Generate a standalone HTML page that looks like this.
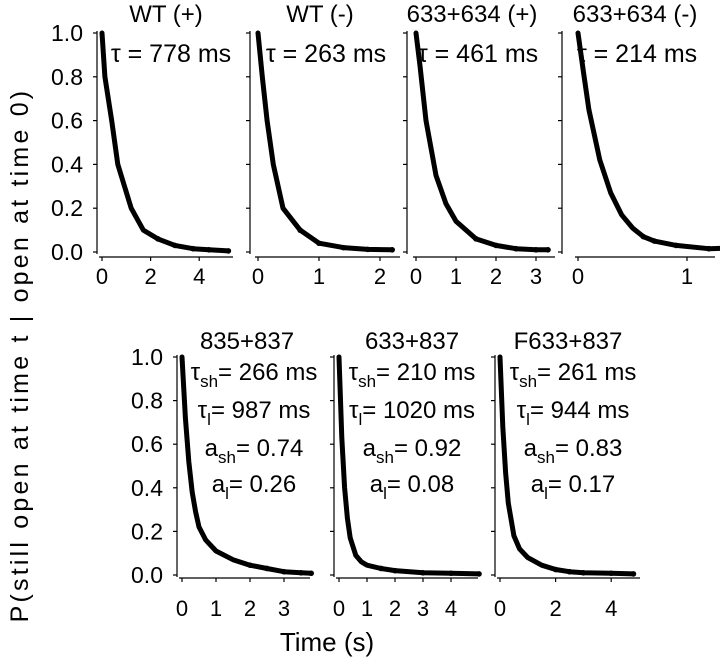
<!DOCTYPE html>
<html><head><meta charset="utf-8"><style>
html,body{margin:0;padding:0;background:#fff}
svg{display:block;font-family:"Liberation Sans",Arial,sans-serif}
</style></head><body>
<svg id="c" width="720" height="658" viewBox="0 0 720 658" xmlns="http://www.w3.org/2000/svg">
<text x="20" y="355" font-size="25" text-anchor="middle" letter-spacing="3.2" transform="rotate(-90 20 355)" dy="8">P(still open at time t | open at time 0)</text>
<text x="327" y="651" font-size="26" text-anchor="middle">Time (s)</text>
</svg>
<script>
const wtPlusT=[0,0.12,0.4,0.65,1.2,1.7,2.3,3,3.75,4.4,5.2];
const wtPlusP=[1.0,0.8,0.6,0.4,0.2,0.1,0.06,0.03,0.015,0.01,0.005];
const wtMinusT=[0,0.07,0.15,0.25,0.41,0.69,1.0,1.4,1.8,2.2];
const wtMinusP=[1.0,0.8,0.6,0.4,0.2,0.1,0.04,0.02,0.012,0.01];
const m634PlusT=[0,0.1,0.25,0.5,0.75,1,1.5,2,2.5,3,3.3];
const m634PlusP=[1.0,0.85,0.6,0.35,0.22,0.14,0.06,0.03,0.015,0.01,0.01];
const m634MinusT=[0,0.05,0.1,0.2,0.3,0.4,0.5,0.6,0.7,0.9,1.2,1.5];
const m634MinusP=[1.0,0.82,0.65,0.42,0.27,0.17,0.11,0.07,0.05,0.03,0.015,0.02];
const m835T=[0,0.1,0.2,0.3,0.4,0.5,0.7,1,1.5,2,2.5,3,3.5,3.8];
const m835P=[1.0,0.72,0.52,0.38,0.29,0.22,0.16,0.11,0.07,0.045,0.03,0.015,0.01,0.008];
const m633T=[0,0.1,0.2,0.3,0.4,0.6,0.8,1.0,1.5,2,3,4,5];
const m633P=[1,0.63,0.4,0.26,0.17,0.09,0.06,0.045,0.03,0.02,0.01,0.008,0.005];
const f633T=[0,0.1,0.2,0.3,0.5,0.7,1.0,1.5,2,2.5,3,4,4.8];
const f633P=[1,0.68,0.47,0.33,0.18,0.12,0.08,0.045,0.025,0.015,0.01,0.008,0.005];
const yTicks=[0,0.2,0.4,0.6,0.8,1.0];
const yTickLabels=["0.0","0.2","0.4","0.6","0.8","1.0"];

const svg=document.getElementById('c');
const NS='http://www.w3.org/2000/svg';
function el(tag,attrs,parent){const e=document.createElementNS(NS,tag);for(const k in attrs)e.setAttribute(k,attrs[k]);(parent||svg).appendChild(e);return e;}

const panels=[
 {name:'wt-plus',T:wtPlusT,P:wtPlusP,ax:97,x0:102,ppu:24.3,xend:233,y1:33,y0:252,xl:257,xticks:[0,2,4],labels:true,title:'WT (+)',tc:166,lines:[['τ = 778 ms','',171]]},
 {name:'wt-minus',T:wtMinusT,P:wtMinusP,ax:250,x0:258,ppu:61,xend:400,y1:33,y0:252,xl:257,xticks:[0,1,2],title:'WT (-)',tc:320,lines:[['τ = 263 ms','',326]]},
 {name:'m633-634-plus',T:m634PlusT,P:m634PlusP,ax:407,x0:416,ppu:40,xend:555,y1:33,y0:252,xl:257,xticks:[0,1,2,3],title:'633+634 (+)',tc:472,lines:[['τ = 461 ms','',478]]},
 {name:'m633-634-minus',T:m634MinusT,P:m634MinusP,ax:562,x0:578,ppu:109,xend:715,y1:33,y0:252,xl:257,xticks:[0,1],title:'633+634 (-)',tc:635,lines:[['τ = 214 ms','',637]]},
 {name:'m835-837',T:m835T,P:m835P,ax:177,x0:182,ppu:34,xend:310,y1:357,y0:575,xl:578,xticks:[0,1,2,3],labels:true,title:'835+837',tc:247,pc:254,lines:[['τ','sh','= 266 ms'],['τ','l','= 987 ms'],['a','sh','= 0.74'],['a','l','= 0.26']]},
 {name:'m633-837',T:m633T,P:m633P,ax:334,x0:339,ppu:28,xend:478,y1:357,y0:575,xl:578,xticks:[0,1,2,3,4],title:'633+837',tc:412,pc:412,lines:[['τ','sh','= 210 ms'],['τ','l','= 1020 ms'],['a','sh','= 0.92'],['a','l','= 0.08']]},
 {name:'f633-837',T:f633T,P:f633P,ax:495,x0:500,ppu:27.8,xend:640,y1:357,y0:575,xl:578,xticks:[0,2,4],title:'F633+837',tc:568,pc:573,lines:[['τ','sh','= 261 ms'],['τ','l','= 944 ms'],['a','sh','= 0.83'],['a','l','= 0.17']]}
];
const lineYs=[372,410,448,484];
panels.forEach(p=>{
 const g=el('g',{});
 
 
 const bottom=p.y1>300;
 const X=t=>p.x0+t*p.ppu, Y=v=>p.y0-v*(p.y0-p.y1);
 const ya=el('line',{x1:p.ax,x2:p.ax,y1:p.y1-2,y2:p.y0+2,stroke:'#000','stroke-width':1.2},g);
 
 yTicks.forEach((v,i)=>{
  el('line',{x1:p.ax-4,x2:p.ax,y1:Y(v),y2:Y(v),stroke:'#000','stroke-width':1.2},g);
  if(p.labels){const t=el('text',{x:p.ax-14,y:Y(v)+8,'font-size':23,'text-anchor':'end'},g);t.textContent=yTickLabels[i];
   }
 });
 const xa=el('line',{x1:p.x0-3,x2:p.xend,y1:p.xl,y2:p.xl,stroke:'#000','stroke-width':1.2},g);
 
 p.xticks.forEach(v=>{
  el('line',{x1:X(v),x2:X(v),y1:p.xl,y2:p.xl+4,stroke:'#000','stroke-width':1.2},g);
  const t=el('text',{x:X(v),y:p.xl+(bottom?38:27),'font-size':22,'text-anchor':'middle'},g);t.textContent=v;
  
 });
 const pts=p.T.map((t,i)=>X(t).toFixed(1)+','+Y(p.P[i]).toFixed(1)).join(' ');
 const pl=el('polyline',{points:pts,fill:'none',stroke:'#000','stroke-width':5,'stroke-linejoin':'round','stroke-linecap':'round'},g);
 
 p.T.forEach((t,i)=>{if(i>=p.T.length-5){const c=el('circle',{cx:X(t),cy:Y(p.P[i]),r:2.8,fill:'#000'},g);
  }});
 const tt=el('text',{x:p.tc,y:bottom?349:22,'font-size':24,'text-anchor':'middle'},g);tt.textContent=p.title;
 
 p.lines.forEach((ln,i)=>{
  const t=el('text',{x:bottom?p.pc:ln[2],y:bottom?lineYs[i]+8:62,'font-size':bottom?24:25,'text-anchor':'middle'},g);
  
  if(!bottom){t.textContent=ln[0];return;}
  const a=el('tspan',{},t);a.textContent=ln[0];
  const b=el('tspan',{dy:7,'font-size':17},t);b.textContent=ln[1];
  const c=el('tspan',{dy:-7},t);c.textContent=ln[2];
 });
});
</script>
</body></html>
